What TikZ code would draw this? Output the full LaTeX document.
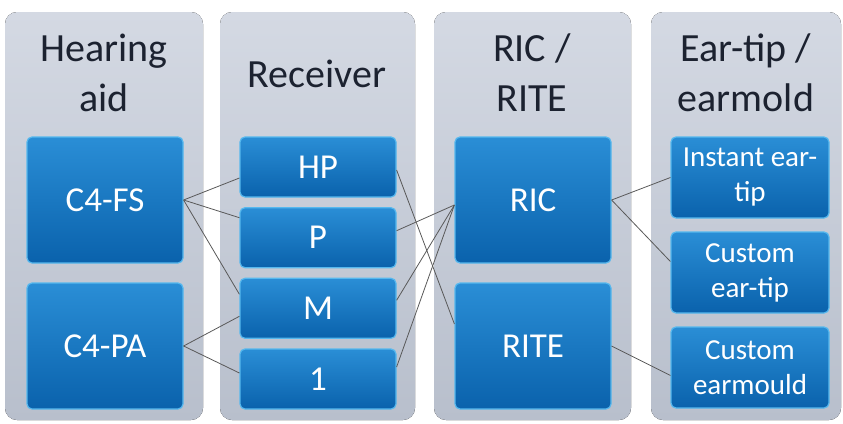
\documentclass[tikz,border=0pt]{standalone}
\usepackage{fontspec}
\setmainfont{Carlito}
\usetikzlibrary{positioning, calc}

\definecolor{panelTop}{HTML}{D4D9E3}
\definecolor{panelBot}{HTML}{B8BFCC}
\definecolor{boxTop}{HTML}{2A8ED6}
\definecolor{boxBot}{HTML}{0A62AC}
\definecolor{boxRim}{HTML}{56B8EE}
\definecolor{headText}{HTML}{1C2230}

\begin{document}
\begin{tikzpicture}[x=1pt,y=-1pt,
    panel/.style={rounded corners=12pt,top color=panelTop,bottom color=panelBot,draw=none},
    head/.style={text=headText,align=center,font=\fontsize{40}{50}\selectfont},
    box/.style={rectangle,rounded corners=5pt,draw=boxRim,line width=1.2pt,top color=boxTop,bottom color=boxBot,
      text=white,align=center,inner sep=0pt,minimum width=156pt,font=\fontsize{35}{40}\selectfont},
    big/.style={box,minimum height=126pt},
    slim/.style={box,minimum height=60pt},
    tip/.style={box,minimum height=81pt,minimum width=158pt,font=\fontsize{29}{35}\selectfont},
    edge/.style={line width=0.8pt,black!65}]
    \useasboundingbox (0,0) rectangle (843,423);

    % columns
    \fill[panel] (5,12) rectangle (203,420);
    \fill[panel] (220,12) rectangle (415,420);
    \fill[panel] (434,12) rectangle (631,420);
    \fill[panel] (651,12) rectangle (841,420);

    \node[head] (hAid) at (104,73) {Hearing\\aid};
    \node[head] (hRec) at (317,74) {Receiver};
    \node[head] (hRic) at (532,73) {RIC /\\RITE};
    \node[head] (hTip) at (746,73) {Ear-tip /\\earmold};

    % boxes
    \node[big] (fs) at (105,200) {C4-FS};
    \node[big] (pa) at (105,346) {C4-PA};

    \node[slim] (hp) at (318,167) {HP};
    \node[slim] (p) at (318,237.7) {P};
    \node[slim] (m) at (318,308.3) {M};
    \node[slim] (one) at (318,379) {1};

    \node[big] (ric) at (533,200) {RIC};
    \node[big] (rite) at (533,346) {RITE};

    \node[tip] (instant) at (750,177.5) {Instant ear-\\tip};
    \node[tip] (custip) at (750,272.5) {Custom\\ear-tip};
    \node[tip] (cusmould) at (750,367.5) {Custom\\earmould};

    % links
    \draw[edge] (fs.east) -- ([yshift=-11pt]hp.west);
    \draw[edge] (fs.east) -- ([yshift=20pt]p.west);
    \draw[edge] (fs.east) -- ([yshift=14pt]m.west);
    \draw[edge] (pa.east) -- ([yshift=-8pt]m.west);
    \draw[edge] (pa.east) -- ([yshift=6pt]one.west);

    \draw[edge] ([yshift=-3pt]hp.east) -- ([yshift=22pt]rite.west);
    \draw[edge] ([yshift=7pt]p.east) -- ([yshift=-5pt]ric.west);
    \draw[edge] ([yshift=8pt]m.east) -- ([yshift=-5pt]ric.west);
    \draw[edge] ([yshift=12pt]one.east) -- ([yshift=-5pt]ric.west);

    \draw[edge] (ric.east) -- (instant.west);
    \draw[edge] (ric.east) -- ([yshift=11pt]custip.west);
    \draw[edge] (rite.east) -- ([yshift=-8pt]cusmould.west);
\end{tikzpicture}
\end{document}
